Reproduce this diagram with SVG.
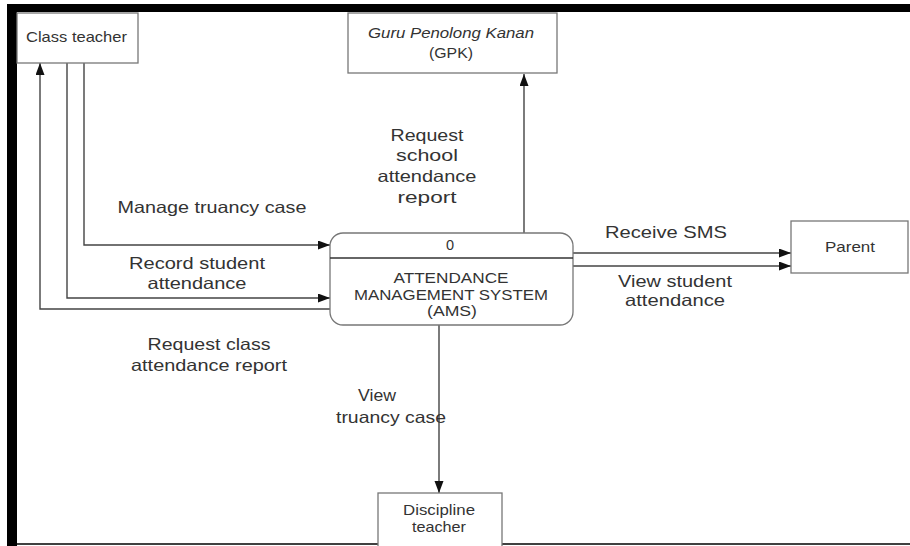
<svg xmlns="http://www.w3.org/2000/svg" width="910" height="546" viewBox="0 0 910 546">
<style>
text{font-family:"Liberation Sans",Arial,sans-serif;fill:#333;text-anchor:middle;dominant-baseline:central}
.box{fill:#fff;stroke:#777;stroke-width:1.3}
.lbl{font-size:16.5px}
.nd{font-size:14.5px}
.conn path{fill:none;stroke:#444;stroke-width:1.4}
</style>
<defs>
<marker id="ah" markerUnits="userSpaceOnUse" markerWidth="13" markerHeight="10" refX="12" refY="4.5" orient="auto">
<path d="M0,0 L12,4.5 L0,9 Z" fill="#111"/>
</marker>
</defs>
<rect width="910" height="546" fill="#fff"/>
<g id="frame">
<rect x="7" y="4" width="903" height="8" fill="#000"/>
<rect x="7" y="4" width="10" height="542" fill="#000"/>
<line x1="16" y1="544" x2="910" y2="544" stroke="#000" stroke-width="1.5"/>
</g>
<g class="conn" id="connectors">
<path d="M84,63 V245 H330" marker-end="url(#ah)"/>
<path d="M67,63 V298 H330" marker-end="url(#ah)"/>
<path d="M330,309 H40 V63" marker-end="url(#ah)"/>
<path d="M524,233 V74" marker-end="url(#ah)"/>
<path d="M573,253 H791" marker-end="url(#ah)"/>
<path d="M573,266 H791" marker-end="url(#ah)"/>
<path d="M439,325 V493" marker-end="url(#ah)"/>
</g>
<g id="labels" class="lbl">
<text x="212" y="207" textLength="189" lengthAdjust="spacingAndGlyphs">Manage truancy case</text>
<text x="197" y="263" textLength="136" lengthAdjust="spacingAndGlyphs">Record student</text>
<text x="197" y="283" textLength="99" lengthAdjust="spacingAndGlyphs">attendance</text>
<text x="209" y="344" textLength="123" lengthAdjust="spacingAndGlyphs">Request class</text>
<text x="209" y="365" textLength="156" lengthAdjust="spacingAndGlyphs">attendance report</text>
<text x="427" y="135" textLength="73" lengthAdjust="spacingAndGlyphs">Request</text>
<text x="427" y="155" textLength="62" lengthAdjust="spacingAndGlyphs">school</text>
<text x="427" y="176" textLength="99" lengthAdjust="spacingAndGlyphs">attendance</text>
<text x="427" y="197" textLength="59" lengthAdjust="spacingAndGlyphs">report</text>
<text x="666" y="232" textLength="122" lengthAdjust="spacingAndGlyphs">Receive SMS</text>
<text x="675" y="281" textLength="114" lengthAdjust="spacingAndGlyphs">View student</text>
<text x="675" y="300" textLength="100" lengthAdjust="spacingAndGlyphs">attendance</text>
<text x="377" y="395" textLength="38" lengthAdjust="spacingAndGlyphs">View</text>
<text x="391" y="417" textLength="110" lengthAdjust="spacingAndGlyphs">truancy case</text>
</g>
<g id="class-teacher">
<rect class="box" x="17" y="13" width="121" height="50"/>
<text class="nd" x="76.5" y="37" textLength="101" lengthAdjust="spacingAndGlyphs">Class teacher</text>
</g>
<g id="gpk">
<rect class="box" x="348" y="13" width="209" height="60"/>
<text class="nd" x="451" y="33" font-style="italic" textLength="166" lengthAdjust="spacingAndGlyphs">Guru Penolong Kanan</text>
<text class="nd" x="451" y="53" textLength="44" lengthAdjust="spacingAndGlyphs">(GPK)</text>
</g>
<g id="ams">
<rect class="box" x="330" y="233" width="243" height="92" rx="13" ry="13" stroke="#555"/>
<line x1="330" y1="258" x2="573" y2="258" stroke="#333" stroke-width="1.4"/>
<text class="nd" x="450" y="245">0</text>
<text class="nd" x="451" y="278" textLength="115" lengthAdjust="spacingAndGlyphs">ATTENDANCE</text>
<text class="nd" x="451" y="295" textLength="194" lengthAdjust="spacingAndGlyphs">MANAGEMENT SYSTEM</text>
<text class="nd" x="452" y="311" textLength="50" lengthAdjust="spacingAndGlyphs">(AMS)</text>
</g>
<g id="parent">
<rect class="box" x="791" y="221" width="117" height="52"/>
<text class="nd" x="850" y="247" textLength="50" lengthAdjust="spacingAndGlyphs">Parent</text>
</g>
<g id="discipline-teacher">
<rect class="box" x="378" y="493" width="124" height="60"/>
<text class="nd" x="439" y="510" textLength="72" lengthAdjust="spacingAndGlyphs">Discipline</text>
<text class="nd" x="439" y="527" textLength="54" lengthAdjust="spacingAndGlyphs">teacher</text>
</g>
</svg>
